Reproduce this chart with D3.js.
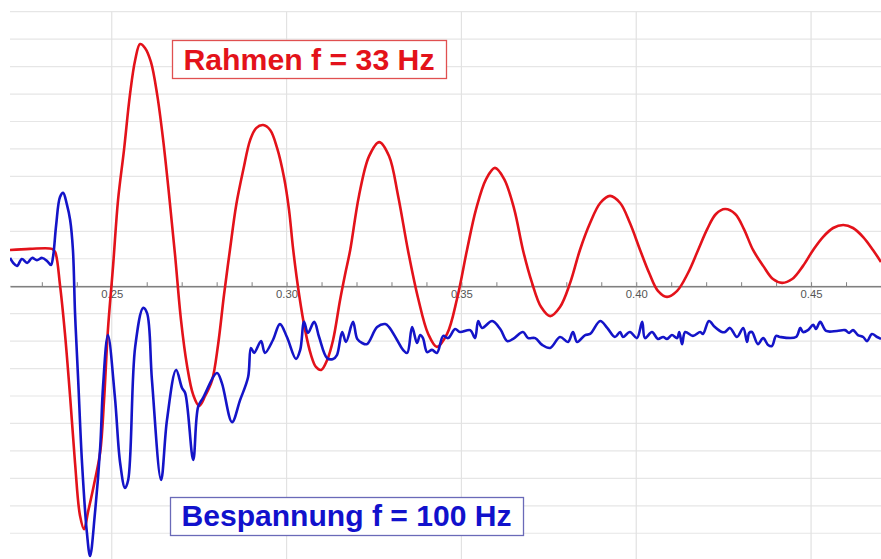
<!DOCTYPE html>
<html>
<head>
<meta charset="utf-8">
<script src="https://cdn.jsdelivr.net/npm/d3@7"></script>
<style>
  html, body { margin: 0; padding: 0; background: #fff; }
  svg { display: block; font-family: "Liberation Sans", Arial, sans-serif; }
</style>
</head>
<body>
<svg id="chart" width="881" height="559"></svg>
<script>
'use strict';

// time in seconds, amplitude in grid units
var rahmenT = [0.2209, 0.2266, 0.2329, 0.2338, 0.2352, 0.2366, 0.2381, 0.2395, 0.2409, 0.2421,
  0.2432, 0.2449, 0.2467, 0.2478, 0.2489, 0.2504, 0.2518, 0.2535, 0.2552, 0.2567,
  0.2581, 0.2595, 0.2612, 0.2630, 0.2647, 0.2664, 0.2681, 0.2698, 0.2715, 0.2733,
  0.2750, 0.2767, 0.2787, 0.2804, 0.2821, 0.2838, 0.2856, 0.2876, 0.2896, 0.2913,
  0.2933, 0.2953, 0.2973, 0.2993, 0.3007, 0.3019, 0.3036, 0.3053, 0.3070, 0.3084,
  0.3099, 0.3116, 0.3133, 0.3153, 0.3167, 0.3182, 0.3207, 0.3236, 0.3265, 0.3293,
  0.3319, 0.3347, 0.3376, 0.3405, 0.3430, 0.3459, 0.3488, 0.3516, 0.3542, 0.3571,
  0.3596, 0.3622, 0.3651, 0.3676, 0.3702, 0.3728, 0.3754, 0.3782, 0.3811, 0.3839,
  0.3868, 0.3897, 0.3925, 0.3954, 0.3982, 0.4011, 0.4037, 0.4062, 0.4088, 0.4117,
  0.4148, 0.4177, 0.4203, 0.4228, 0.4254, 0.4283, 0.4308, 0.4334, 0.4363, 0.4391,
  0.4417, 0.4446, 0.4477, 0.4506, 0.4534, 0.4563, 0.4592, 0.4620, 0.4649, 0.4677, 0.4700];
var rahmenV = [1.32, 1.36, 1.36, 1.25, 0.04, -1.70, -4.04, -6.44, -8.34, -8.85,
  -8.23, -7.24, -6.04, -4.15, -1.60, 0.77, 3.14, 4.96, 6.97, 8.24,
  8.82, 8.68, 8.17, 6.97, 5.33, 3.32, 1.14, -1.23, -2.87, -3.96,
  -4.36, -4.00, -3.42, -2.14, -0.32, 1.32, 2.96, 4.23, 5.33, 5.76,
  5.87, 5.69, 5.03, 3.94, 2.78, 1.32, -0.32, -1.60, -2.51, -2.94,
  -3.05, -2.69, -1.96, -0.50, 0.41, 1.32, 3.29, 4.74, 5.25, 4.74,
  3.29, 1.32, -0.43, -1.74, -2.21, -1.74, -0.43, 1.32, 2.81, 3.91,
  4.31, 3.91, 2.81, 1.32, 0.12, -0.76, -1.09, -0.76, 0.12, 1.32,
  2.30, 3.03, 3.29, 3.03, 2.30, 1.32, 0.48, -0.17, -0.39, -0.17,
  0.48, 1.32, 2.08, 2.63, 2.81, 2.63, 2.08, 1.32, 0.74, 0.26,
  0.12, 0.26, 0.74, 1.32, 1.79, 2.12, 2.23, 2.12, 1.79, 1.32, 0.88];

var bespT = [0.2209, 0.2218, 0.2229, 0.2243, 0.2258, 0.2272, 0.2286, 0.2301, 0.2315, 0.2326,
  0.2332, 0.2341, 0.2352, 0.2361, 0.2372, 0.2381, 0.2389, 0.2395, 0.2404, 0.2415,
  0.2429, 0.2438, 0.2452, 0.2467, 0.2475, 0.2489, 0.2509, 0.2524, 0.2538, 0.2547,
  0.2567, 0.2590, 0.2601, 0.2615, 0.2641, 0.2658, 0.2684, 0.2701, 0.2710, 0.2733,
  0.2747, 0.2761, 0.2801, 0.2815, 0.2844, 0.2867, 0.2890, 0.2898, 0.2907, 0.2927,
  0.2938, 0.2961, 0.2981, 0.3001, 0.3027, 0.3039, 0.3050, 0.3061, 0.3079, 0.3093,
  0.3116, 0.3133, 0.3144, 0.3159, 0.3170, 0.3190, 0.3202, 0.3216, 0.3230, 0.3259,
  0.3282, 0.3293, 0.3316, 0.3333, 0.3345, 0.3359, 0.3373, 0.3382, 0.3390, 0.3402,
  0.3416, 0.3430, 0.3448, 0.3462, 0.3482, 0.3496, 0.3525, 0.3539, 0.3548, 0.3559,
  0.3588, 0.3611, 0.3631, 0.3648, 0.3676, 0.3691, 0.3711, 0.3731, 0.3754, 0.3782,
  0.3805, 0.3819, 0.3831, 0.3854, 0.3868, 0.3897, 0.3917, 0.3939, 0.3954, 0.3962,
  0.3982, 0.4002, 0.4017, 0.4025, 0.4045, 0.4062, 0.4077, 0.4088, 0.4102, 0.4117,
  0.4123, 0.4131, 0.4140, 0.4162, 0.4183, 0.4191, 0.4208, 0.4225, 0.4245, 0.4254,
  0.4268, 0.4288, 0.4306, 0.4317, 0.4323, 0.4331, 0.4348, 0.4363, 0.4377, 0.4388,
  0.4400, 0.4411, 0.4457, 0.4469, 0.4477, 0.4491, 0.4506, 0.4514, 0.4526, 0.4543,
  0.4574, 0.4597, 0.4609, 0.4620, 0.4634, 0.4649, 0.4660, 0.4674, 0.4689, 0.4700];
var bespV = [1.03, 0.85, 0.74, 0.99, 0.85, 1.03, 0.95, 1.03, 0.92, 0.77,
  1.06, 2.23, 3.25, 3.40, 2.96, 2.41, 1.32, -0.98, -3.42, -6.44,
  -8.99, -9.83, -8.26, -5.86, -3.67, -1.78, -4.04, -6.44, -7.35, -7.06,
  -2.21, -0.79, -0.98, -3.42, -7.06, -4.87, -3.05, -3.71, -3.89, -6.33,
  -4.40, -4.07, -3.16, -3.53, -4.95, -4.15, -3.31, -2.25, -2.43, -2.00,
  -2.43, -1.96, -1.38, -1.85, -2.65, -2.32, -1.30, -1.70, -1.30, -1.85,
  -2.62, -2.65, -2.51, -1.67, -2.03, -1.30, -1.92, -2.07, -2.11, -1.49,
  -1.38, -1.49, -1.96, -2.32, -2.43, -1.49, -2.07, -1.78, -1.89, -2.40,
  -2.32, -2.43, -1.81, -1.89, -1.56, -1.67, -1.60, -1.89, -1.27, -1.52,
  -1.27, -1.56, -2.00, -1.92, -1.67, -1.89, -1.89, -2.14, -2.25, -1.85,
  -2.03, -1.67, -2.03, -1.78, -1.74, -1.27, -1.52, -1.85, -1.67, -1.85,
  -1.67, -1.89, -1.30, -1.89, -1.67, -1.92, -1.85, -1.92, -1.78, -1.89,
  -1.67, -2.11, -1.67, -1.81, -1.67, -1.74, -1.27, -1.49, -1.67, -1.67,
  -1.52, -1.85, -1.52, -2.03, -1.70, -1.67, -2.11, -1.89, -2.14, -2.18,
  -1.81, -1.85, -1.85, -1.52, -1.67, -1.60, -1.41, -1.56, -1.30, -1.63,
  -1.63, -1.60, -1.70, -1.60, -1.78, -1.85, -2.00, -1.74, -1.85, -1.92];

var majorTicks = [0.25, 0.30, 0.35, 0.40, 0.45];
var gridLevels = [-9, -8, -7, -6, -5, -4, -3, -2, -1, 0, 1, 2, 3, 4, 5, 6, 7, 8, 9, 10];
var labels = [
  { text: 'Rahmen f = 33 Hz', color: '#e3121a', stroke: '#e05050' },
  { text: 'Bespannung f = 100 Hz', color: '#1111cc', stroke: '#6a6ab8' }
];

var W = 881, H = 559,
    plotLeft = 10, plotTop = 11.7;

var svg = d3.select('#chart');

var x = d3.scaleLinear().domain([0.2209, 0.4700]).range([plotLeft, W]);
var y = d3.scaleLinear().domain([-10, 10]).range([560.7, plotTop]);

svg.append('defs').append('clipPath').attr('id', 'plot')
  .append('rect').attr('x', plotLeft).attr('y', plotTop)
  .attr('width', W - plotLeft).attr('height', H - plotTop);

// grid
var grid = svg.append('g');
grid.selectAll('line.h').data(gridLevels).enter().append('line')
  .attr('x1', plotLeft).attr('x2', W)
  .attr('y1', function(d) { return y(d); }).attr('y2', function(d) { return y(d); })
  .attr('stroke', '#e6e6e6').attr('stroke-width', 1.2);
grid.selectAll('line.v').data(majorTicks).enter().append('line')
  .attr('x1', function(d) { return x(d); }).attr('x2', function(d) { return x(d); })
  .attr('y1', plotTop).attr('y2', H)
  .attr('stroke', '#e2e2e2').attr('stroke-width', 1.2);

// time axis on the zero line, small ticks every 0.01 pointing up
var fmt = d3.format('.2f');
var axis = svg.append('g')
  .attr('transform', 'translate(0,' + y(0) + ')')
  .call(d3.axisBottom(x)
    .ticks(25)
    .tickSizeInner(-4).tickSizeOuter(0).tickPadding(4)
    .tickFormat(function(d) {
      var isMajor = majorTicks.some(function(m) { return Math.abs(m - d) < 1e-6; });
      return isMajor ? fmt(d) : '';
    }));
axis.select('.domain').attr('stroke', '#808080').attr('stroke-width', 1.6);
axis.selectAll('.tick line').attr('stroke', '#808080');
axis.selectAll('.tick text')
  .attr('fill', '#555').attr('font-size', 11.3)
  .attr('font-family', '"Liberation Sans", Arial, sans-serif');

var line = d3.line()
  .x(function(d) { return x(d[0]); })
  .y(function(d) { return y(d[1]); })
  .curve(d3.curveCatmullRom.alpha(0.5));

var plot = svg.append('g').attr('clip-path', 'url(#plot)');

plot.append('path')
  .datum(d3.zip(rahmenT, rahmenV))
  .attr('d', line)
  .attr('fill', 'none')
  .attr('stroke', '#e3121a')
  .attr('stroke-width', 2.6)
  .attr('stroke-linejoin', 'round');

plot.append('path')
  .datum(d3.zip(bespT, bespV))
  .attr('d', line)
  .attr('fill', 'none')
  .attr('stroke', '#1414c8')
  .attr('stroke-width', 2.6)
  .attr('stroke-linejoin', 'round');

// boxed labels
var boxes = [
  { x: 172, y: 40, w: 274, h: 38, tx: 309, ty: 69.5, len: 251 },
  { x: 170, y: 497, w: 353, h: 38, tx: 346.5, ty: 526, len: 330 }
];
labels.forEach(function(l, i) {
  var b = boxes[i];
  var g = svg.append('g');
  g.append('rect')
    .attr('x', b.x + 0.5).attr('y', b.y + 0.5)
    .attr('width', b.w).attr('height', b.h)
    .attr('fill', '#fff').attr('stroke', l.stroke).attr('stroke-width', 1.3);
  g.append('text')
    .attr('x', b.tx).attr('y', b.ty)
    .attr('text-anchor', 'middle')
    .attr('font-size', 29).attr('font-weight', 'bold')
    .attr('textLength', b.len).attr('lengthAdjust', 'spacingAndGlyphs')
    .attr('fill', l.color)
    .text(l.text);
});
</script>
</body>
</html>
